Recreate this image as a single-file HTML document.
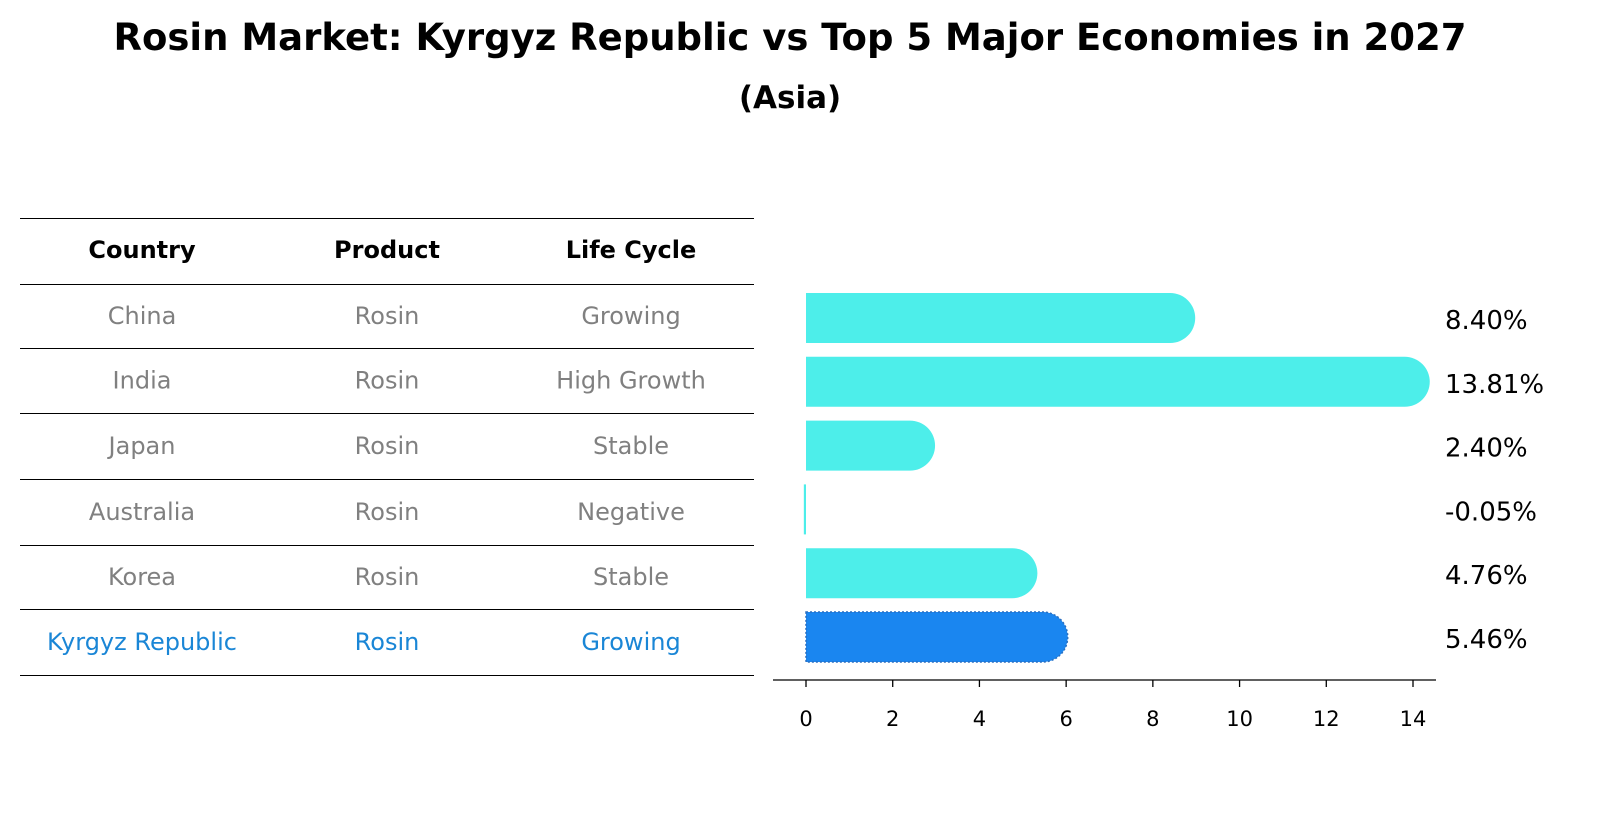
<!DOCTYPE html>
<html><head><meta charset="utf-8"><style>
body{margin:0;background:#fff;font-family:"Liberation Sans","DejaVu Sans",sans-serif;}
</style></head><body>
<svg width="1604" height="823" xmlns="http://www.w3.org/2000/svg" font-family="DejaVu Sans, Liberation Sans, sans-serif">
<text x="790" y="50" text-anchor="middle" font-size="37" font-weight="bold">Rosin Market: Kyrgyz Republic vs Top 5 Major Economies in 2027</text>
<text x="790" y="108" text-anchor="middle" font-size="31" font-weight="bold">(Asia)</text>
<g id="table"></g>
<g id="chart"></g>
</svg>
<script>
const countries=["China","India","Japan","Australia","Korea","Kyrgyz Republic"];
const products=["Rosin","Rosin","Rosin","Rosin","Rosin","Rosin"];
const lifeCycles=["Growing","High Growth","Stable","Negative","Stable","Growing"];
const growthValues=[8.40,13.81,2.40,-0.05,4.76,5.46];
const tickValues=[0,2,4,6,8,10,12,14];
const NS="http://www.w3.org/2000/svg";
function mk(tag,attrs,parent){const e=document.createElementNS(NS,tag);for(const k in attrs)e.setAttribute(k,attrs[k]);parent.appendChild(e);return e;}
const table=document.getElementById('table');
const chart=document.getElementById('chart');
const lineYs=[218,284,348,413,479,545,609,675];
const colX=[142,387,631];
for(const y of lineYs){const l=mk('line',{x1:20,x2:754,y1:y+0.5,y2:y+0.5,stroke:'#000','stroke-width':1},table);

}
["Country","Product","Life Cycle"].forEach((h,i)=>{const t=mk('text',{x:colX[i],y:258,'text-anchor':'middle','font-size':24,'font-weight':'bold'},table);t.textContent=h;

});
countries.forEach((c,r)=>{const hl=r===countries.length-1;const y=(lineYs[r+1]+lineYs[r+2])/2+8;
[c,products[r],lifeCycles[r]].forEach((v,i)=>{const t=mk('text',{x:colX[i],y:y,'text-anchor':'middle','font-size':24,fill:hl?'#1a86d6':'#808080'},table);t.textContent=v;

});});
const x0=806,pxPer=(1413-806)/14;
const xs=v=>x0+v*pxPer;
const rowY=i=>318+i*63.8;
const bh=50,r=25;
const ax=mk('line',{x1:773,x2:1436,y1:680,y2:680,stroke:'#000','stroke-width':1.3},chart);


tickValues.forEach(v=>{const tk=mk('line',{x1:xs(v),x2:xs(v),y1:680,y2:687,stroke:'#000','stroke-width':1.3},chart);


const t=mk('text',{x:xs(v),y:726,'text-anchor':'middle','font-size':21},chart);t.textContent=v;

});
growthValues.forEach((v,i)=>{const hl=i===growthValues.length-1;const cy=rowY(i);let el;
if(v<=0){el=mk('rect',{x:xs(v),y:cy-bh/2,width:Math.max(1.5,xs(0)-xs(v)),height:bh,fill:'#4deeea'},chart);}
else{const xe=xs(v),top=cy-bh/2,bot=cy+bh/2;
el=mk('path',{d:`M${x0},${top} L${xe},${top} A${r},${r} 0 0 1 ${xe},${bot} L${x0},${bot} Z`,fill:hl?'#1a86f0':'#4deeea',stroke:hl?'#2a6fc0':'none','stroke-width':hl?1.5:0,'stroke-dasharray':hl?'2,2':''},chart);}


const t=mk('text',{x:1445,y:cy+11,'font-size':26},chart);t.textContent=v.toFixed(2)+'%';

});
</script>
</body></html>
